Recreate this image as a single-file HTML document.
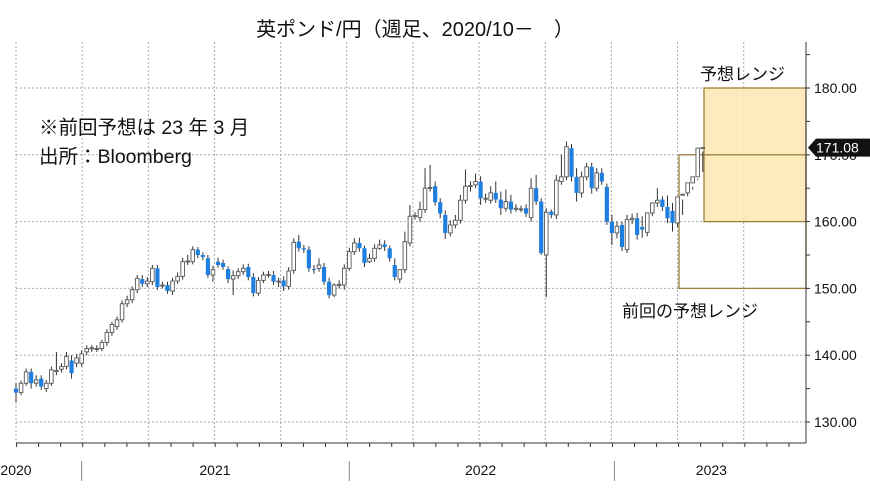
<!DOCTYPE html>
<html><head><meta charset="utf-8">
<style>
html,body{margin:0;padding:0;background:#fff;}
body{width:870px;height:488px;overflow:hidden;font-family:"Liberation Sans","Noto Sans CJK JP",sans-serif;}
svg text{font-family:"Liberation Sans","Noto Sans CJK JP",sans-serif;}
</style></head>
<body>
<svg id="chart" width="870" height="488" viewBox="0 0 870 488" xmlns="http://www.w3.org/2000/svg">
<text x="415" y="36" font-size="20" text-anchor="middle" fill="#111">英ポンド/円（週足、2020/10－　）</text>
<g id="grid"></g>
<g id="boxes"></g>
<g id="candles"></g>
<g id="axes"></g>
<text x="39" y="134" font-size="19.5" fill="#111">※前回予想は 23 年 3 月</text>
<text x="39" y="163" font-size="19.5" fill="#111">出所：Bloomberg</text>
<text x="700" y="80" font-size="17" fill="#111">予想レンジ</text>
<text x="622" y="317" font-size="17" fill="#111">前回の予想レンジ</text>
</svg>
<script>
const opens=[135.0,134.4,135.8,137.5,135.8,136.5,135.0,135.8,137.6,137.9,138.3,139.2,138.8,138.8,140.5,141.0,141.0,141.0,141.9,143.4,144.3,145.3,147.7,148.3,149.8,151.4,150.7,151.0,153.0,150.5,150.5,149.6,151.1,151.8,154.0,154.0,155.8,155.0,154.5,152.0,154.0,153.8,152.9,151.4,151.9,152.5,153.2,151.7,149.3,151.2,152.0,152.0,151.0,151.2,150.3,152.7,157.0,156.0,155.8,152.9,153.0,153.2,151.0,149.0,150.5,150.5,153.0,155.5,156.8,156.0,154.0,154.5,156.0,156.6,156.0,153.5,151.4,152.8,156.8,160.8,160.6,161.8,165.0,165.3,162.9,161.0,158.3,159.5,160.2,163.2,165.3,165.5,166.0,163.4,163.2,164.3,163.3,162.0,163.0,162.0,161.8,162.0,160.6,165.0,163.0,155.0,161.5,161.0,166.0,166.7,171.0,166.7,164.3,166.7,168.2,165.0,167.3,165.2,160.0,158.3,159.5,155.8,160.3,160.5,159.2,158.4,161.3,162.8,163.3,162.2,161.6,159.8,164.0,164.3,165.8,166.7,171.0];
const closes=[134.4,135.8,137.5,135.8,136.3,135.3,135.8,137.8,137.7,138.3,139.8,137.3,139.6,140.2,141.0,141.1,141.0,141.9,143.4,144.6,145.3,147.7,148.3,149.8,151.5,150.7,151.1,153.0,150.2,150.5,149.6,151.1,151.8,154.0,154.1,155.8,155.0,154.7,152.0,152.8,153.5,153.2,151.4,151.9,152.5,153.0,151.7,149.3,151.2,152.0,152.1,151.0,151.1,150.3,152.6,156.9,156.0,155.8,153.0,152.8,153.5,151.0,149.0,150.5,150.6,153.0,155.5,156.8,156.0,153.8,154.5,156.0,156.5,156.2,154.5,151.7,152.8,157.0,160.8,160.9,161.8,165.0,165.1,162.9,161.2,158.3,159.5,160.2,163.2,165.3,165.4,166.0,163.5,163.5,164.3,163.3,162.0,163.0,161.8,162.0,161.9,161.2,165.0,163.0,155.3,161.4,161.0,166.2,166.7,171.2,166.7,164.3,166.7,168.2,165.0,167.3,166.0,160.0,158.3,159.3,156.2,160.3,160.5,158.0,158.8,161.3,162.8,163.2,162.2,160.5,159.8,163.7,164.1,165.8,166.7,171.0,171.08];
const highs=[135.8,136.2,138.0,138.0,137.0,137.0,136.3,138.3,140.5,138.8,140.5,140.0,140.2,140.7,141.5,141.5,141.5,142.3,143.9,145.0,145.8,148.2,148.9,150.3,152.0,152.0,151.7,153.5,153.5,151.0,151.0,151.6,152.4,154.6,155.0,156.3,156.2,155.4,155.0,153.4,154.6,154.3,153.3,152.7,153.0,153.6,153.7,152.3,151.7,152.5,152.6,152.6,151.6,151.8,153.2,157.5,158.0,156.5,156.3,153.5,154.5,153.8,151.6,150.8,151.2,153.6,156.1,157.5,157.6,156.4,155.2,156.6,157.3,157.2,156.4,154.5,152.0,158.5,162.5,161.4,163.0,168.0,168.5,166.0,163.5,161.7,160.2,161.0,164.0,167.8,166.0,167.2,166.8,164.2,165.3,166.0,164.5,164.8,164.0,162.6,162.4,162.6,166.5,167.0,163.5,162.0,161.8,167.0,170.0,172.0,171.6,168.0,167.5,168.8,168.8,168.0,168.0,165.7,161.0,160.0,160.0,161.0,161.2,161.3,160.8,159.8,162.0,165.0,163.8,163.9,162.8,162.5,161.0,165.0,164.8,166.4,167.4,171.5,171.4];
const lows=[133.0,134.0,135.4,135.0,135.3,134.8,134.5,135.4,137.0,137.4,137.9,136.5,138.2,138.3,140.0,140.5,140.5,140.6,141.4,142.9,143.8,144.9,147.2,147.8,149.3,150.2,150.2,150.5,149.8,150.0,149.2,149.0,150.7,151.3,153.5,153.6,154.5,154.2,151.6,151.0,153.1,152.8,150.8,149.0,151.4,152.0,151.2,148.8,148.9,150.8,151.6,150.5,150.2,149.6,149.8,152.2,155.5,155.3,152.5,152.2,152.5,150.5,148.5,148.7,150.0,149.8,152.6,155.0,155.5,153.2,153.8,154.0,155.8,155.6,154.0,151.2,150.8,152.3,156.3,160.3,160.0,161.3,164.5,162.4,160.5,157.4,157.8,159.0,159.7,162.7,164.5,165.0,162.5,162.8,162.7,162.8,161.0,161.5,161.2,161.5,161.4,160.7,160.0,162.5,155.0,148.7,160.5,160.4,165.5,166.2,166.0,163.0,163.6,166.2,164.2,164.5,165.5,159.5,156.5,157.5,155.6,155.3,159.6,157.3,157.6,157.8,160.8,162.2,161.6,159.8,158.5,159.2,163.3,163.8,165.2,166.2,170.5];
const yTicks=[130,140,150,160,170,180];
const yLabels=["130.00","140.00","150.00","160.00","170.00","180.00"];
const years=["2020","2021","2022","2023"];
const yearLabelWeek=[0,39.4,92,137.7];
const yearSepWeek=[13,66,118.5];
const forecastRange=[160,180];
const prevRange=[150,170];
const lastPrice=171.08;

const NS="http://www.w3.org/2000/svg";
const X0=16,DX=5.05,PL=16,PR=806;
const xS=i=>X0+i*DX;
const yS=v=>88+(180-v)*6.68;
function mk(tag,attrs,parent){const e=document.createElementNS(NS,tag);for(const k in attrs)e.setAttribute(k,attrs[k]);parent.appendChild(e);return e;}
const grid=document.getElementById('grid'),axes=document.getElementById('axes'),cg=document.getElementById('candles'),bx=document.getElementById('boxes');

yTicks.forEach(v=>{
  const l=mk('line',{x1:PL,x2:PR,y1:yS(v),y2:yS(v),stroke:'#aaa','stroke-width':1,'stroke-dasharray':'2,2'},grid);
  
  
});
for(let w=0;w<=156;w+=13.1){
  const x=xS(w);
  if(x>PR)break;
  const l=mk('line',{x1:x,x2:x,y1:42,y2:443,stroke:'#aaa','stroke-width':1,'stroke-dasharray':'2,2'},grid);
  
  
}
const fb=mk('rect',{x:704,y:yS(forecastRange[1]),width:PR-704,height:yS(forecastRange[0])-yS(forecastRange[1]),fill:'#fde7b3','fill-opacity':0.85,stroke:'#9c7f3a','stroke-width':1.3},bx);


const pb=mk('rect',{x:679,y:yS(prevRange[1]),width:PR-679,height:yS(prevRange[0])-yS(prevRange[1]),fill:'none',stroke:'#9c7f3a','stroke-width':1.3},bx);



closes.forEach((c,i)=>{
  const o=opens[i],x=xS(i),up=c>=o;
  const g=mk('g',{},cg);
  
  
  mk('line',{x1:x,x2:x,y1:yS(highs[i]),y2:yS(lows[i]),stroke:'#333','stroke-width':1},g);
  const top=yS(Math.max(o,c)),bot=yS(Math.min(o,c));
  const h=Math.max(bot-top,1);
  if(up) mk('rect',{x:x-1.8,y:top,width:3.6,height:h,fill:'#fff',stroke:'#555','stroke-width':0.9},g);
  else mk('rect',{x:x-2.1,y:top,width:4.2,height:h,fill:'#1f7fe0'},g);
});

mk('line',{x1:PR,x2:PR,y1:42,y2:443,stroke:'#333','stroke-width':1},axes);
for(let v=130;v<=185;v+=5){
  mk('line',{x1:PR,x2:PR+4,y1:yS(v),y2:yS(v),stroke:'#333','stroke-width':1},axes);
}
yTicks.forEach((v,i)=>{
  const t=mk('text',{x:814,y:yS(v)+5,'font-size':14,fill:'#111'},axes);
  t.textContent=yLabels[i];
  
  
});
mk('line',{x1:PL,x2:PR,y1:443,y2:443,stroke:'#333','stroke-width':1},axes);
for(let w=-13;w<=156;w+=4.37){const x=xS(w);if(x<PL||x>PR)continue;mk('line',{x1:x,x2:x,y1:443,y2:447,stroke:'#333','stroke-width':1},axes);}
yearSepWeek.forEach(w=>{
  const xs=xS(w);
  const l=mk('line',{x1:xs,x2:xs,y1:461,y2:481,stroke:'#888','stroke-width':1},axes);
  
  
});
years.forEach((y,i)=>{
  const t=mk('text',{x:xS(yearLabelWeek[i]),y:475,'font-size':14,fill:'#111','text-anchor':'middle'},axes);
  t.textContent=y;
  
  
});
const ly=yS(lastPrice);
const tag=mk('path',{d:`M${PR+2} ${ly} L${PR+10} ${ly-9} L870 ${ly-9} L870 ${ly+9} L${PR+10} ${ly+9} Z`,fill:'#111'},axes);


const tt=mk('text',{x:816,y:ly+5,'font-size':14,fill:'#fff'},axes);
tt.textContent=lastPrice.toFixed(2);


</script>
</body></html>
